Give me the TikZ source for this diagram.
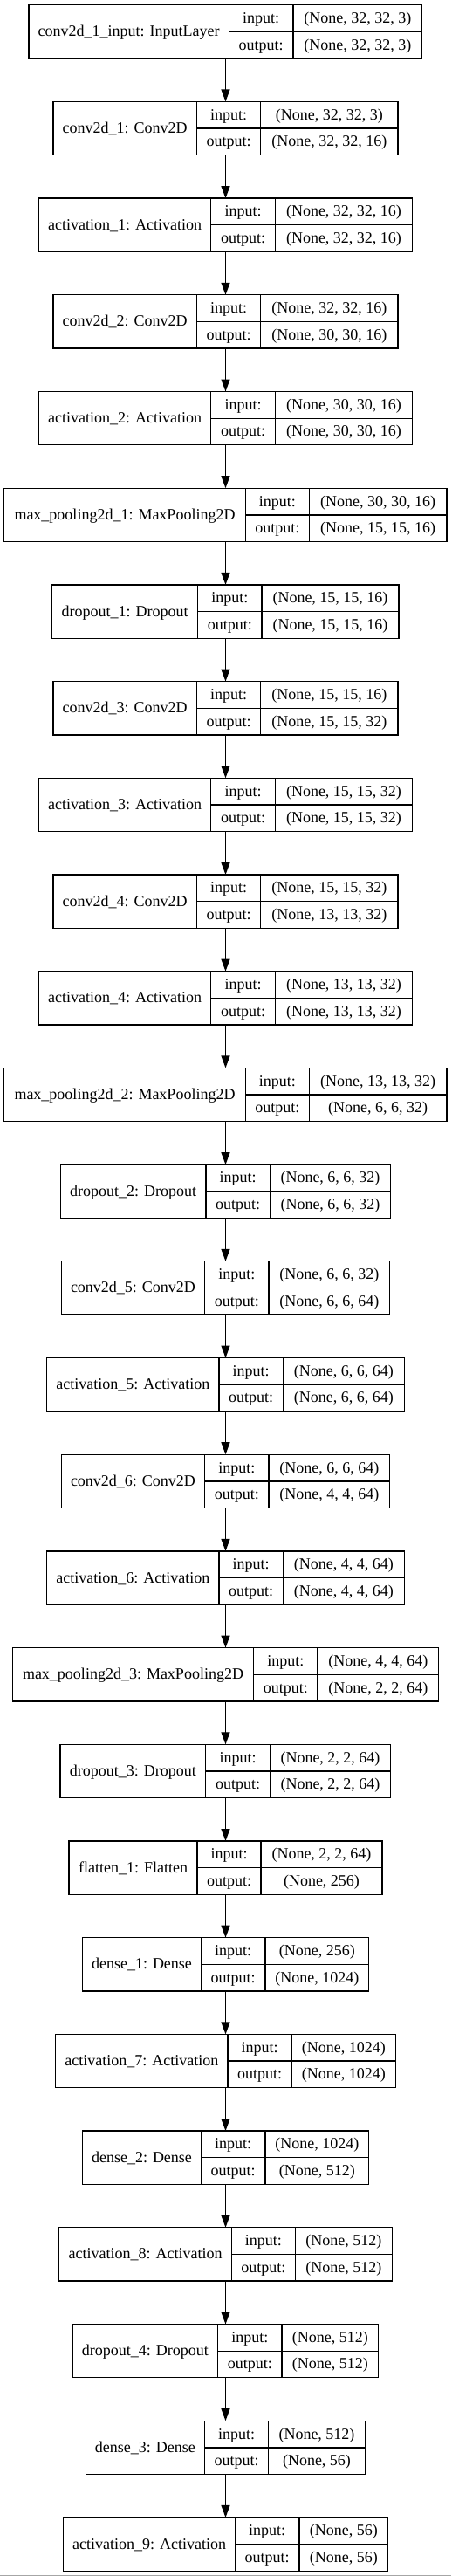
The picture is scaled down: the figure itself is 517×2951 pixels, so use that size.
\documentclass[tikz,border=0pt]{standalone}
\usepackage{fontspec}
\setmainfont{Liberation Serif}
\usetikzlibrary{arrows.meta}
\begin{document}
\begin{tikzpicture}[x=1pt,y=-1pt,
  layerbox/.style={draw=black, line width=1.3pt, inner sep=0pt, outer sep=0pt, rectangle},
  cellline/.style={draw=black, line width=1.3pt},
  lbl/.style={anchor=base, inner sep=0pt, font=\fontsize{18}{20}\selectfont},
  arr/.style={draw=black, line width=1.3pt, -{Triangle[length=14pt,width=10pt]}}]
\useasboundingbox (0,0) rectangle (517,2951);
\fill[white] (0,0) rectangle (517,2951);
\coordinate (ax) at (258.5,0);
\foreach \i/\nm/\L/\da/\db/\R/\vin/\vout in {
 0/{conv2d\_1\_input: InputLayer}/33/262.3/336/483.7/{(None, 32, 32, 3)}/{(None, 32, 32, 3)},
 1/{conv2d\_1: Conv2D}/61/225.3/298.7/456/{(None, 32, 32, 3)}/{(None, 32, 32, 16)},
 2/{activation\_1: Activation}/44.3/241.7/315.3/472.7/{(None, 32, 32, 16)}/{(None, 32, 32, 16)},
 3/{conv2d\_2: Conv2D}/61/225.3/298.7/456/{(None, 32, 32, 16)}/{(None, 30, 30, 16)},
 4/{activation\_2: Activation}/44.3/241.7/315.3/472.7/{(None, 30, 30, 16)}/{(None, 30, 30, 16)},
 5/{max\_pooling2d\_1: MaxPooling2D}/4.7/281.3/354.3/512/{(None, 30, 30, 16)}/{(None, 15, 15, 16)},
 6/{dropout\_1: Dropout}/59.7/226.7/300/457/{(None, 15, 15, 16)}/{(None, 15, 15, 16)},
 7/{conv2d\_3: Conv2D}/61/225.3/298.7/456/{(None, 15, 15, 16)}/{(None, 15, 15, 32)},
 8/{activation\_3: Activation}/44.3/241.7/315.3/472.7/{(None, 15, 15, 32)}/{(None, 15, 15, 32)},
 9/{conv2d\_4: Conv2D}/61/225.3/298.7/456/{(None, 15, 15, 32)}/{(None, 13, 13, 32)},
 10/{activation\_4: Activation}/44.3/241.7/315.3/472.7/{(None, 13, 13, 32)}/{(None, 13, 13, 32)},
 11/{max\_pooling2d\_2: MaxPooling2D}/4.7/281.3/354.3/512/{(None, 13, 13, 32)}/{(None, 6, 6, 32)},
 12/{dropout\_2: Dropout}/69.3/236/309.3/447.7/{(None, 6, 6, 32)}/{(None, 6, 6, 32)},
 13/{conv2d\_5: Conv2D}/70.3/234.7/308/446.7/{(None, 6, 6, 32)}/{(None, 6, 6, 64)},
 14/{activation\_5: Activation}/53.7/251/324.3/463.3/{(None, 6, 6, 64)}/{(None, 6, 6, 64)},
 15/{conv2d\_6: Conv2D}/70.3/234.7/308/446.7/{(None, 6, 6, 64)}/{(None, 4, 4, 64)},
 16/{activation\_6: Activation}/53.7/251/324.3/463.3/{(None, 4, 4, 64)}/{(None, 4, 4, 64)},
 17/{max\_pooling2d\_3: MaxPooling2D}/14.3/290.7/364/502.7/{(None, 4, 4, 64)}/{(None, 2, 2, 64)},
 18/{dropout\_3: Dropout}/69/235.7/309.3/447.7/{(None, 2, 2, 64)}/{(None, 2, 2, 64)},
 19/{flatten\_1: Flatten}/79/226/299/438/{(None, 2, 2, 64)}/{(None, 256)},
 20/{dense\_1: Dense}/94.7/230.3/304/422.7/{(None, 256)}/{(None, 1024)},
 21/{activation\_7: Activation}/63.7/261/334.3/453.3/{(None, 1024)}/{(None, 1024)},
 22/{dense\_2: Dense}/94.7/230.3/304/422.7/{(None, 1024)}/{(None, 512)},
 23/{activation\_8: Activation}/67.7/265.3/338.3/449.3/{(None, 512)}/{(None, 512)},
 24/{dropout\_4: Dropout}/83/249.7/323/433.7/{(None, 512)}/{(None, 512)},
 25/{dense\_3: Dense}/98.3/234.3/307.7/418.3/{(None, 512)}/{(None, 56)},
 26/{activation\_9: Activation}/72.7/269.3/343/444.7/{(None, 56)}/{(None, 56)}
}{
  \pgfmathsetmacro\t{5.7+110.7*\i}
  \pgfmathsetmacro\b{\t+61.3}
  \pgfmathsetmacro\m{\t+30.65}
  \pgfmathsetmacro\cx{(\L+\R)/2}
  \pgfmathsetmacro\w{\R-\L}
  \node[layerbox, minimum width=\w, minimum height=61.3] (L\i) at (\cx,\m) {};
  \draw[cellline] (\da,\t) -- (\da,\b);
  \draw[cellline] (\db,\t) -- (\db,\b);
  \draw[cellline] (\da,\m) -- (\R,\m);
  \node[lbl] (N\i) at ({(\L+\da)/2},{\m+5.5}) {\nm};
  \node[lbl] (I\i) at ({(\da+\db)/2},{\t+15.3+5.5}) {input:};
  \node[lbl] (O\i) at ({(\da+\db)/2},{\m+15.3+5.5}) {output:};
  \node[lbl] (VI\i) at ({(\db+\R)/2},{\t+15.3+5.5}) {\vin};
  \node[lbl] (VO\i) at ({(\db+\R)/2},{\m+15.3+5.5}) {\vout};
}
\foreach \i [evaluate=\i as \j using int(\i+1)] in {0,...,25} {
  \draw[arr] (L\i.south -| ax) -- (L\j.north -| ax);
}
\draw[black!35, line width=1pt] (0,2950.5) -- (517,2950.5);
\end{tikzpicture}
\end{document}
